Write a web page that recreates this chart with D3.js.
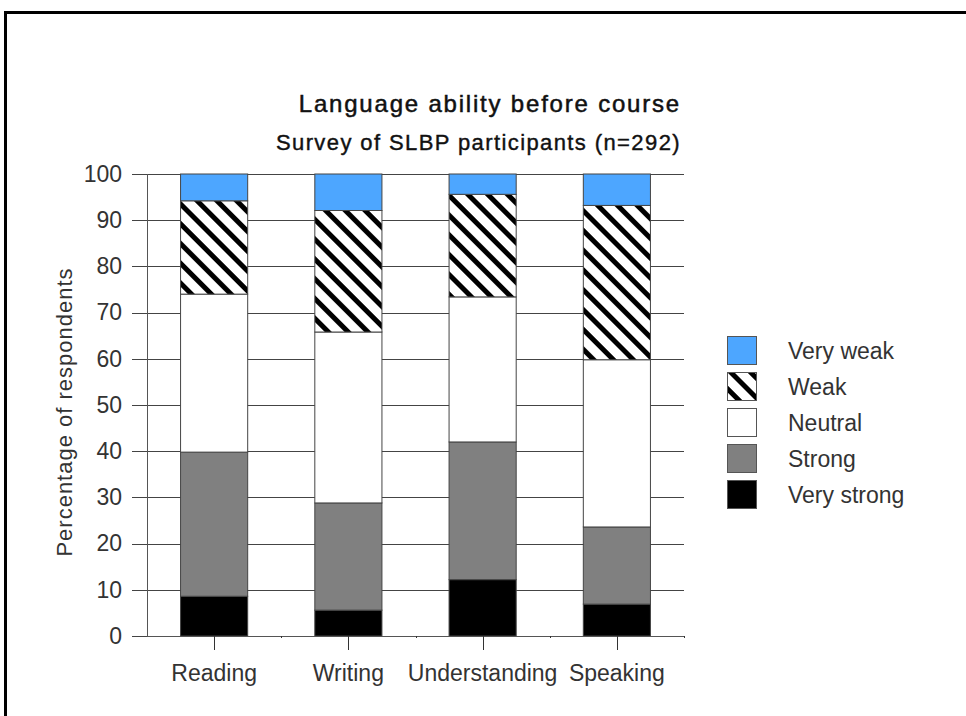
<!DOCTYPE html>
<html>
<head>
<meta charset="utf-8">
<script src="https://cdn.jsdelivr.net/npm/d3@7"></script>
<style>
    body { margin: 0; background: #fff; }
    svg { display: block; }
    text { font-family: "Liberation Sans", Arial, sans-serif; fill: #222; }
</style>
</head>
<body>
<svg width="966" height="716"></svg>
<script>
/*jslint browser: true */
/*global d3 */

"use strict";

var skills = ["Reading", "Writing", "Understanding", "Speaking"];
var levels = ["Very strong", "Strong", "Neutral", "Weak", "Very weak"];
var veryStrong = [8.6, 5.6, 12.2, 6.9];
var strong = [31.2, 23.2, 29.8, 16.7];
var neutral = [34.2, 37.0, 31.4, 36.2];
var weak = [20.2, 26.3, 22.2, 33.4];
var veryWeak = [5.8, 7.9, 4.4, 6.8];
var yTicks = [0, 10, 20, 30, 40, 50, 60, 70, 80, 90, 100];

var seriesValues = [veryStrong, strong, neutral, weak, veryWeak];
var fills = {
    "Very strong": "#000000",
    "Strong": "#808080",
    "Neutral": "#ffffff",
    "Weak": "url(#hatch)",
    "Very weak": "#4da6ff"
};

var rows = skills.map(function (skill, i) {
    var row = {skill: skill};
    levels.forEach(function (level, j) {
        row[level] = seriesValues[j][i];
    });
    return row;
});

var margin = {top: 174, left: 147, bottom: 80, right: 282}; // px
var width = 966 - margin.left - margin.right;
var height = 716 - margin.top - margin.bottom;

var svg = d3.select("svg");

// hatch for "Weak"
var pattern = svg.append("defs").append("pattern")
    .attr("id", "hatch")
    .attr("patternUnits", "userSpaceOnUse")
    .attr("width", 14)
    .attr("height", 14)
    .attr("patternTransform", "rotate(-45)");
pattern.append("rect")
    .attr("width", 14)
    .attr("height", 14)
    .attr("fill", "#fff");
pattern.append("rect")
    .attr("width", 5)
    .attr("height", 14)
    .attr("fill", "#000");

// outer frame
svg.append("rect")
    .attr("x", 5.5)
    .attr("y", 12.5)
    .attr("width", 1000)
    .attr("height", 800)
    .attr("fill", "none")
    .attr("stroke", "#000")
    .attr("stroke-width", 3);

svg.append("text")
    .attr("x", 681)
    .attr("y", 112)
    .attr("text-anchor", "end")
    .style("font-size", "24px")
    .style("letter-spacing", "1.8px")
    .style("fill", "#111")
    .style("stroke", "#111")
    .style("stroke-width", "0.5px")
    .text("Language ability before course");

svg.append("text")
    .attr("x", 681)
    .attr("y", 150)
    .attr("text-anchor", "end")
    .style("font-size", "22px")
    .style("letter-spacing", "1.4px")
    .style("fill", "#111")
    .style("stroke", "#111")
    .style("stroke-width", "0.4px")
    .text("Survey of SLBP participants (n=292)");

var main = svg.append("g")
    .attr("transform", "translate(" + margin.left + "," + margin.top + ")");

var x = d3.scaleBand()
    .domain(skills)
    .range([0, width])
    .paddingInner(0.5)
    .paddingOuter(0.25);

var y = d3.scaleLinear()
    .domain([0, 100])
    .range([height, 0]);

// grid
main.append("g")
    .selectAll("line")
    .data(yTicks)
    .join("line")
    .attr("x1", -15)
    .attr("x2", width)
    .attr("y1", function (d) {
        return Math.round(y(d)) + 0.5;
    })
    .attr("y2", function (d) {
        return Math.round(y(d)) + 0.5;
    })
    .attr("stroke", "#444")
    .attr("stroke-width", 1);

var yAxis = d3.axisLeft(y)
    .tickValues(yTicks)
    .tickSize(0)
    .tickPadding(25);
var yAxisGroup = main.append("g")
    .attr("class", "y axis")
    .call(yAxis);
yAxisGroup.select(".domain").remove();
yAxisGroup.selectAll("text")
    .style("font-size", "23px")
    .style("font-family", "'Liberation Sans', Arial, sans-serif")
    .style("fill", "#333");

main.append("line")
    .attr("x1", 0.5)
    .attr("x2", 0.5)
    .attr("y1", 0)
    .attr("y2", height)
    .attr("stroke", "#555");

var stacked = d3.stack().keys(levels)(rows);

main.append("g")
    .selectAll("g")
    .data(stacked)
    .join("g")
    .attr("fill", function (d) {
        return fills[d.key];
    })
    .selectAll("rect")
    .data(function (d) {
        return d;
    })
    .join("rect")
    .attr("x", function (d) {
        return x(d.data.skill);
    })
    .attr("y", function (d) {
        return y(d[1]);
    })
    .attr("width", x.bandwidth())
    .attr("height", function (d) {
        return y(d[0]) - y(d[1]);
    })
    .attr("stroke", "#444")
    .attr("stroke-width", 1);

// x axis: long ticks at centres, tiny ticks at band edges
var xAxisGroup = main.append("g")
    .attr("transform", "translate(0," + height + ")");
xAxisGroup.append("line")
    .attr("x1", 0)
    .attr("x2", width)
    .attr("y1", 0.5)
    .attr("y2", 0.5)
    .attr("stroke", "#555");
xAxisGroup.selectAll("line.major")
    .data(skills)
    .join("line")
    .attr("class", "major")
    .attr("x1", function (d) {
        return Math.round(x(d) + x.bandwidth() / 2) + 0.5;
    })
    .attr("x2", function (d) {
        return Math.round(x(d) + x.bandwidth() / 2) + 0.5;
    })
    .attr("y1", 0)
    .attr("y2", 14)
    .attr("stroke", "#333");
xAxisGroup.selectAll("line.minor")
    .data(skills)
    .join("line")
    .attr("class", "minor")
    .attr("x1", function (d) {
        return Math.round(x(d) + x.bandwidth() * 1.5) + 0.5;
    })
    .attr("x2", function (d) {
        return Math.round(x(d) + x.bandwidth() * 1.5) + 0.5;
    })
    .attr("y1", 0)
    .attr("y2", 2)
    .attr("stroke", "#333");
xAxisGroup.selectAll("text")
    .data(skills)
    .join("text")
    .attr("x", function (d) {
        return x(d) + x.bandwidth() / 2;
    })
    .attr("y", 45)
    .attr("text-anchor", "middle")
    .style("font-size", "23px")
    .style("fill", "#333")
    .text(function (d) {
        return d;
    });

svg.append("text")
    .attr("transform", "translate(72,412) rotate(-90)")
    .attr("text-anchor", "middle")
    .style("font-size", "22px")
    .style("letter-spacing", "1px")
    .style("fill", "#333")
    .text("Percentage of respondents");

// legend, top entry is "Very weak"
var legend = svg.append("g")
    .attr("transform", "translate(727,336)");
var legendItems = legend.selectAll("g")
    .data(levels.slice().reverse())
    .join("g")
    .attr("transform", function (ignore, i) {
        return "translate(0," + (i * 36) + ")";
    });
legendItems.append("rect")
    .attr("x", 0.5)
    .attr("y", 0.5)
    .attr("width", 29)
    .attr("height", 28)
    .attr("fill", function (d) {
        return fills[d];
    })
    .attr("stroke", "#555");
legendItems.append("text")
    .attr("x", 61)
    .attr("y", 23)
    .style("font-size", "23px")
    .style("fill", "#333")
    .text(function (d) {
        return d;
    });
</script>
</body>
</html>
